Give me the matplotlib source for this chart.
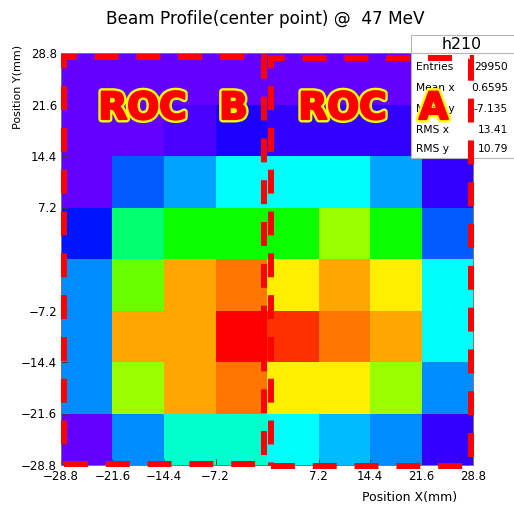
import colorsys

import numpy as np
import matplotlib
matplotlib.use("Agg")
import matplotlib.pyplot as plt
import matplotlib.patheffects as pe
from matplotlib.colors import ListedColormap, Normalize
from matplotlib.lines import Line2D
from matplotlib.patches import Rectangle

# ---- data -----------------------------------------------------------------
x_edges = [-28.8, -21.6, -14.4, -7.2, 0.0, 7.2, 14.4, 21.6, 28.8]
y_edges = [-28.8, -21.6, -14.4, -7.2, 0.0, 7.2, 14.4, 21.6, 28.8]
tick_values = [-28.8, -21.6, -14.4, -7.2, 7.2, 14.4, 21.6, 28.8]

# counts per pixel bin, first row = top (y 21.6..28.8), columns left -> right
counts_top_down = [
    [63, 60, 57, 55, 52, 50, 49, 47],
    [66, 62, 84, 131, 108, 103, 98, 95],
    [64, 247, 309, 411, 405, 399, 306, 101],
    [171, 541, 655, 668, 662, 797, 651, 238],
    [289, 752, 987, 1031, 915, 981, 909, 402],
    [294, 976, 992, 1159, 1098, 1036, 979, 409],
    [286, 803, 990, 1025, 921, 912, 795, 283],
    [60, 291, 448, 455, 410, 338, 280, 99],
]

hist_name = "h210"
stat_names = ["Entries", "Mean x", "Mean y", "RMS x", "RMS y"]
stat_values = ["29950", "0.6595", "-7.135", "13.41", "10.79"]

title_text = "Beam Profile(center point) @  47 MeV"
x_title = "Position X(mm)"
y_title = "Position Y(mm)"

# readout chip regions (x0, y0, x1, y1) in mm and their labels
roc_boxes = [(-28.45, -28.73, -0.42, 28.24), (0.56, -28.94, 28.56, 28.17)]
roc_words = [("ROC", "B"), ("ROC", "A")]


# ---- helpers ----------------------------------------------------------------
def pretty_palette(n=50, max_hue=280.0, min_hue=0.0):
    """Violet -> red spectrum built in HLS space (fixed lightness/saturation)."""
    cols = []
    for i in range(n):
        hue = max_hue - (i + 1) * (max_hue - min_hue) / n
        cols.append(colorsys.hls_to_rgb(hue / 360.0, 0.5, 1.0))
    return ListedColormap(cols)


W, H = 514, 507


def fx(px):
    return px / W


def fy(py):
    return 1.0 - py / H


def fmt_tick(v):
    return f"{v:.1f}".replace("-", "\u2212")


# ---- figure -----------------------------------------------------------------
plt.rcParams["font.family"] = ["DejaVu Sans"]

fig = plt.figure(figsize=(W / 100, H / 100), dpi=100)
fig.patch.set_facecolor("white")
ax = fig.add_axes([fx(61), fy(465), 412 / W, 412 / H])

z = np.flipud(np.array(counts_top_down, dtype=float))
cmap = pretty_palette()
ax.pcolormesh(x_edges, y_edges, z, cmap=cmap,
              norm=Normalize(vmin=0, vmax=z.max()), linewidth=0)

ax.set_xlim(x_edges[0], x_edges[-1])
ax.set_ylim(y_edges[0], y_edges[-1])
ax.set_xticks(tick_values)
ax.set_xticklabels([fmt_tick(v) for v in tick_values])
ax.set_yticks(tick_values)
ax.set_yticklabels([fmt_tick(v) for v in tick_values])
ax.tick_params(axis="both", direction="in", length=4.5, width=0.6,
               color="#333333", labelcolor="black", labelsize=8.5)
ax.tick_params(axis="x", pad=3.6)
ax.tick_params(axis="y", pad=2.9)
for sp in ax.spines.values():
    sp.set_color("#777777")
    sp.set_linewidth(0.7)

fig.text(fx(265.5), fy(24), title_text, ha="center", va="baseline", fontsize=12.2)
fig.text(fx(457), fy(501), x_title, ha="right", va="baseline", fontsize=9)
fig.text(fx(17.5), fy(86.5), y_title, rotation=90, ha="center", va="center",
         fontsize=8)

# ---- statistics box ---------------------------------------------------------
box_left, box_top, box_right, box_bottom, header_line = 411, 35, 516, 158, 53
fig.add_artist(Rectangle((fx(box_left), fy(box_bottom)),
                         (box_right - box_left) / W, (box_bottom - box_top) / H,
                         transform=fig.transFigure, facecolor="white",
                         edgecolor="#b5b5b5", linewidth=0.8, zorder=5))
fig.add_artist(Line2D([fx(box_left), fx(box_right)], [fy(header_line)] * 2,
                      transform=fig.transFigure, color="#b5b5b5",
                      linewidth=0.8, zorder=5))
fig.text(fx(461.7), fy(49.5), hist_name, ha="center", va="baseline",
         fontsize=11.3, zorder=6)
row_baselines = [70.5, 91.3, 112.3, 133.3, 152.3]
for name, val, yb in zip(stat_names, stat_values, row_baselines):
    fig.text(fx(416), fy(yb), name, ha="left", va="baseline", fontsize=7.7,
             zorder=6)
    fig.text(fx(508), fy(yb), val, ha="right", va="baseline", fontsize=7.7,
             zorder=6)

# ---- chip outlines and labels -----------------------------------------------
for x0, y0, x1, y1 in roc_boxes:
    fig.add_artist(Rectangle((x0, y0), x1 - x0, y1 - y0, transform=ax.transData,
                             fill=False, edgecolor="#ff0000", linewidth=4.3,
                             linestyle=(0, (4, 3)), capstyle="butt",
                             zorder=8, clip_on=False))

word_centers = [(142.5, 233.5), (342.5, 433.5)]
outline = [pe.withStroke(linewidth=5.0, foreground="#ffff00"),
           pe.withStroke(linewidth=1.6, foreground="#ff0000")]
for (w1, w2), (c1, c2) in zip(roc_words, word_centers):
    for word, cx in ((w1, c1), (w2, c2)):
        fig.text(fx(cx), fy(119.0), word, ha="center", va="baseline",
                 fontsize=27, fontweight="bold", color="#ff0000",
                 path_effects=outline, zorder=9)

fig.savefig("out.png", dpi=100)
